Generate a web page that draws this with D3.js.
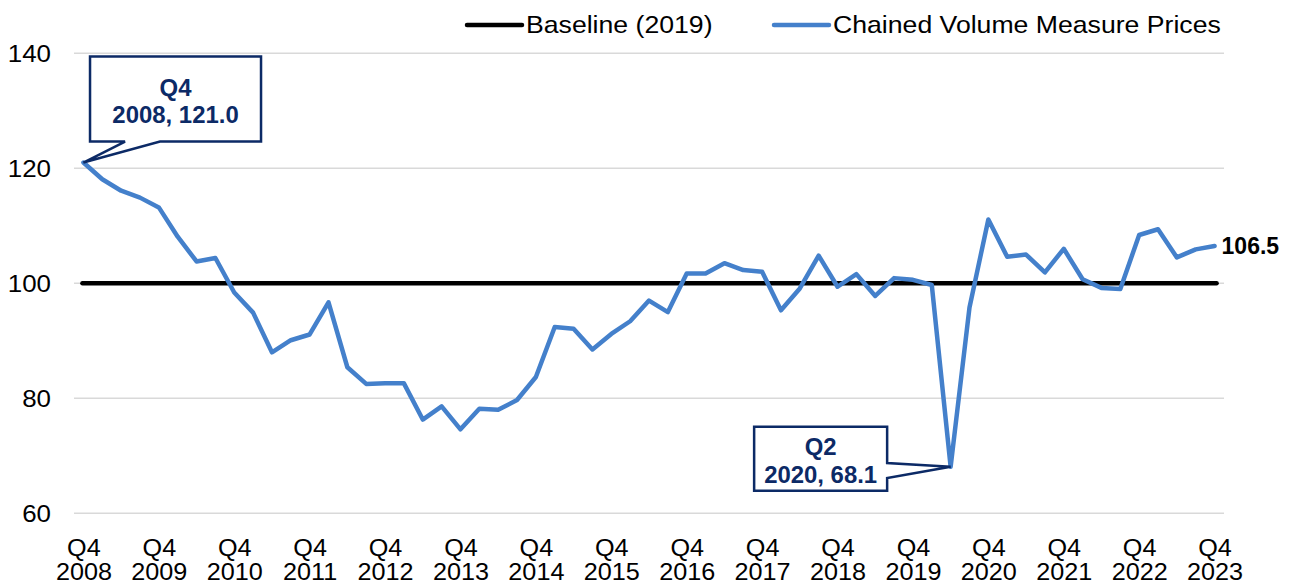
<!DOCTYPE html>
<html>
<head>
<meta charset="utf-8">
<script src="https://cdn.jsdelivr.net/npm/d3@7"></script>
<style>
  body { margin: 0; background: #fff; }
  svg { display: block; font-family: Arial, "Liberation Sans", sans-serif; }
</style>
</head>
<body>
<svg id="chart" width="1289" height="586"></svg>
<script>
// quarterly series, Q4 2008 .. Q4 2023
const startYear = 2008;
const values = [
  121.0, 118.1, 116.1, 114.9, 113.2, 108.1, 103.8, 104.4, 98.4, 94.9,
  88.0, 90.1, 91.1, 96.7, 85.4, 82.5, 82.6, 82.6, 76.3, 78.6,
  74.6, 78.2, 78.0, 79.7, 83.7, 92.4, 92.1, 88.5, 91.2, 93.4,
  97.0, 95.0, 101.7, 101.7, 103.5, 102.3, 102.0, 95.3, 99.1, 104.8,
  99.4, 101.6, 97.8, 100.9, 100.6, 99.7, 68.1, 95.8, 111.1, 104.6,
  105.0, 101.9, 106.0, 100.7, 99.2, 99.0, 108.4, 109.4, 104.5, 105.9,
  106.5
];
const baselineValue = 100;
const yTicks = [60, 80, 100, 120, 140];
const tickLabels = ["Q4 2008", "Q4 2009", "Q4 2010", "Q4 2011", "Q4 2012", "Q4 2013", "Q4 2014", "Q4 2015",
  "Q4 2016", "Q4 2017", "Q4 2018", "Q4 2019", "Q4 2020", "Q4 2021", "Q4 2022", "Q4 2023"];
const seriesNames = ["Baseline (2019)", "Chained Volume Measure Prices"];
const callouts = [
  {label: "Q4 2008", lines: ["Q4", "2008, 121.0"]},
  {label: "Q2 2020", lines: ["Q2", "2020, 68.1"]}
];

const navy = "#0c2a66";
const blue = "#4480cb";
const fontFamily = "Arial, 'Liberation Sans', sans-serif";

// category labels for every quarter
const quarters = values.map((v, i) => {
  const q = ((3 + i) % 4) + 1;
  const y = startYear + Math.floor((3 + i) / 4);
  return `Q${q} ${y}`;
});

const svg = d3.select("#chart");
const plot = {left: 74, right: 1224, top: 53.3, bottom: 513.3};

const x = d3.scalePoint()
  .domain(quarters)
  .range([plot.left, plot.right])
  .padding(0.5);

const y = d3.scaleLinear()
  .domain([60, 140])
  .range([plot.bottom, plot.top]);

// the source text is a little wider than the font renders here
function wideText(parent, tx, ty, sx) {
  return parent.append("g")
    .attr("transform", `translate(${tx},${ty}) scale(${sx},1)`)
    .append("text")
    .attr("font-family", fontFamily)
    .attr("fill", "#000");
}

// gridlines
svg.append("g")
  .selectAll("line")
  .data(yTicks)
  .enter().append("line")
  .attr("x1", plot.left)
  .attr("x2", plot.right)
  .attr("y1", d => y(d))
  .attr("y2", d => y(d))
  .attr("stroke", "#d9d9d9")
  .attr("stroke-width", 1.5);

// y axis labels
const yAxis = svg.append("g")
  .attr("transform", `translate(${plot.left},0)`)
  .call(d3.axisLeft(y).tickValues(yTicks).tickSize(0).tickFormat(""));
yAxis.select(".domain").remove();
yAxis.selectAll(".tick").each(function(d) {
  wideText(d3.select(this), -23, 0, 1.08)
    .attr("font-size", 24)
    .attr("text-anchor", "end")
    .attr("dy", "0.35em")
    .text(d);
});

// x axis labels, two lines each
const xAxis = svg.append("g")
  .attr("transform", `translate(0,${plot.bottom})`)
  .call(d3.axisBottom(x).tickValues(tickLabels).tickSize(0).tickFormat(""));
xAxis.select(".domain").remove();
xAxis.selectAll(".tick").each(function(d) {
  const parts = d.split(" ");
  const t = wideText(d3.select(this), 0, 0, 1.05)
    .attr("font-size", 24)
    .attr("text-anchor", "middle");
  t.append("tspan").attr("x", 0).attr("y", 43).text(parts[0]);
  t.append("tspan").attr("x", 0).attr("y", 67).text(parts[1]);
});

// baseline
svg.append("line")
  .attr("x1", x(quarters[0]) - 1)
  .attr("x2", x(quarters[quarters.length - 1]) + 2)
  .attr("y1", y(baselineValue))
  .attr("y2", y(baselineValue))
  .attr("stroke", "#000")
  .attr("stroke-width", 4.5)
  .attr("stroke-linecap", "round");

// series
const line = d3.line()
  .x((d, i) => x(quarters[i]))
  .y(d => y(d));

svg.append("path")
  .datum(values)
  .attr("d", line)
  .attr("fill", "none")
  .attr("stroke", blue)
  .attr("stroke-width", 4.5)
  .attr("stroke-linejoin", "round")
  .attr("stroke-linecap", "round");

// last value label
const lastI = values.length - 1;
svg.append("text")
  .attr("x", x(quarters[lastI]) + 7)
  .attr("y", y(values[lastI]))
  .attr("dy", "0.35em")
  .attr("font-size", 23)
  .attr("font-weight", "bold")
  .attr("fill", "#000")
  .text(values[lastI].toFixed(1));

// callout 1: box up-right of the point, wedge off its bottom edge
{
  const c = callouts[0];
  const px = x(c.label), py = y(values[quarters.indexOf(c.label)]);
  const bx = px + 6.6, by = py - 106, bw = 171, bh = 85;
  const path = d3.path();
  path.moveTo(bx, by);
  path.lineTo(bx + bw, by);
  path.lineTo(bx + bw, by + bh);
  path.lineTo(px + 76.6, by + bh);
  path.lineTo(px, py);
  path.lineTo(px + 41.6, by + bh);
  path.lineTo(bx, by + bh);
  path.closePath();
  svg.append("path").attr("d", path.toString())
    .attr("fill", "#fff").attr("stroke", navy).attr("stroke-width", 2.5)
    .attr("stroke-linejoin", "miter");
  const t = wideText(svg, bx + bw / 2, by, 1.04)
    .attr("text-anchor", "middle").attr("font-size", 23).attr("font-weight", "bold").attr("fill", navy);
  t.append("tspan").attr("x", 0).attr("y", 39).text(c.lines[0]);
  t.append("tspan").attr("x", 0).attr("y", 66).text(c.lines[1]);
}

// callout 2: box left of the point, wedge off its right edge
{
  const c = callouts[1];
  const px = x(c.label), py = y(values[quarters.indexOf(c.label)]);
  const bw = 133, bh = 64, bx = px - 196.5, by = py - 40;
  const path = d3.path();
  path.moveTo(bx, by);
  path.lineTo(bx + bw, by);
  path.lineTo(bx + bw, py - 3.7);
  path.lineTo(px, py);
  path.lineTo(bx + bw, py + 11.3);
  path.lineTo(bx + bw, by + bh);
  path.lineTo(bx, by + bh);
  path.closePath();
  svg.append("path").attr("d", path.toString())
    .attr("fill", "#fff").attr("stroke", navy).attr("stroke-width", 2.5)
    .attr("stroke-linejoin", "miter");
  const t = wideText(svg, bx + bw / 2, by, 1.04)
    .attr("text-anchor", "middle").attr("font-size", 23).attr("font-weight", "bold").attr("fill", navy);
  t.append("tspan").attr("x", 0).attr("y", 28).text(c.lines[0]);
  t.append("tspan").attr("x", 0).attr("y", 56).text(c.lines[1]);
}

// legend
const legend = svg.append("g").attr("transform", "translate(0,25)");
const legendItems = [
  {name: seriesNames[0], color: "#000", x: 467},
  {name: seriesNames[1], color: blue, x: 774}
];
legendItems.forEach(it => {
  legend.append("line")
    .attr("x1", it.x).attr("x2", it.x + 55)
    .attr("y1", 0).attr("y2", 0)
    .attr("stroke", it.color).attr("stroke-width", 4.5)
    .attr("stroke-linecap", "round");
  wideText(legend, it.x + 59, 0, 1.11)
    .attr("dy", "0.35em")
    .attr("font-size", 24)
    .text(it.name);
});
</script>
</body>
</html>
